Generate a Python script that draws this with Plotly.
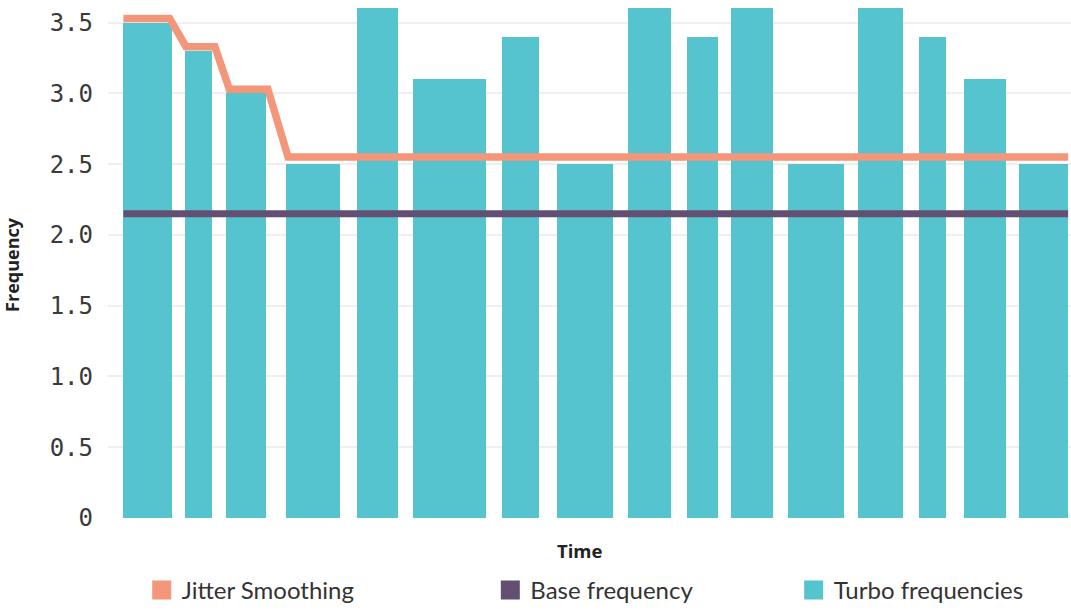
import plotly.graph_objects as go

# Turbo frequency intervals: start/end time (ms) and frequency (GHz)
turbo_start = [1.6, 8.0, 12.3, 18.5, 25.9, 31.7, 40.9, 46.6, 54.0, 60.1, 64.7, 70.6, 77.9, 84.2, 88.9, 94.6]
turbo_end = [6.6, 10.8, 16.4, 24.1, 30.1, 39.3, 44.8, 52.4, 58.5, 63.3, 69.1, 76.4, 82.6, 87.0, 93.2, 99.7]
turbo_freq = [3.5, 3.3, 3.0, 2.5, 3.6, 3.1, 3.4, 2.5, 3.6, 3.4, 3.6, 2.5, 3.6, 3.4, 3.1, 2.5]

# Jitter smoothing envelope
jitter_time = [1.6, 6.4, 8.1, 11.1, 12.6, 16.6, 18.7, 99.7]
jitter_freq = [3.53, 3.53, 3.33, 3.33, 3.03, 3.03, 2.55, 2.55]

# Base frequency
base_time = [1.6, 99.7]
base_freq = [2.15, 2.15]

# Axis ticks
y_tickvals = [0, 0.5, 1.0, 1.5, 2.0, 2.5, 3.0, 3.5]
y_ticktext = ["0", "0.5", "1.0", "1.5", "2.0", "2.5", "3.0", "3.5"]

TEAL = "#55C4CE"
ORANGE = "#F4967A"
PURPLE = "#634F72"

bar_mid = [(s + e) / 2 for s, e in zip(turbo_start, turbo_end)]
bar_w = [e - s for s, e in zip(turbo_start, turbo_end)]

fig = go.Figure()
fig.add_trace(go.Bar(x=bar_mid, y=turbo_freq, width=bar_w, marker=dict(color=TEAL, line=dict(width=0)),
                     showlegend=False, name="Turbo frequencies"))
fig.add_trace(go.Scatter(x=base_time, y=base_freq, mode="lines", line=dict(color=PURPLE, width=7),
                         showlegend=False, name="Base frequency"))
fig.add_trace(go.Scatter(x=jitter_time, y=jitter_freq, mode="lines", line=dict(color=ORANGE, width=7.5),
                         showlegend=False, name="Jitter Smoothing"))

# Legend entries as square swatches, one legend per entry
legend_items = [("Jitter Smoothing", ORANGE, "legend"), ("Base frequency", PURPLE, "legend2"),
                ("Turbo frequencies", TEAL, "legend3")]
for name, color, lg in legend_items:
    fig.add_trace(go.Scatter(x=[None], y=[None], mode="markers", name=name, legend=lg,
                             marker=dict(symbol="square", size=16, color=color, line=dict(color=color, width=3))))

legend_font = dict(family="Lato", size=24, color="#333333")
common = dict(orientation="h", yanchor="middle", y=-0.141, xanchor="left", font=legend_font,
              itemsizing="trace", bgcolor="rgba(0,0,0,0)")
fig.update_layout(
    legend=dict(x=0.035, **common),
    legend2=dict(x=0.397, **common),
    legend3=dict(x=0.712, **common),
)

title_font = dict(family="Open Sans", color="#222222")
fig.add_annotation(text="<b>Time</b>", xref="paper", yref="paper", x=0.490, y=-0.063,
                   xanchor="center", yanchor="middle", showarrow=False, font=dict(size=18.5, **title_font))
fig.add_annotation(text="<b>Frequency</b>", xref="paper", yref="paper", x=-0.100, y=0.49, textangle=-90,
                   xanchor="center", yanchor="middle", showarrow=False, font=dict(size=18, **title_font))

fig.update_layout(
    width=1071, height=613,
    margin=dict(l=108, r=0, t=0, b=94),
    paper_bgcolor="white", plot_bgcolor="white",
    bargap=0,
    xaxis=dict(range=[0, 100], showticklabels=False, showgrid=False, zeroline=False, ticks=""),
    yaxis=dict(range=[0, 3.66], tickvals=y_tickvals, ticktext=y_ticktext, showgrid=True, gridcolor="#EFEFEF",
               gridwidth=2, zeroline=False, ticks="", ticklabelstandoff=14,
               tickfont=dict(family="DejaVu Sans Mono", size=24, color="#3a3a3a")),
)

fig.write_html("out.html")
